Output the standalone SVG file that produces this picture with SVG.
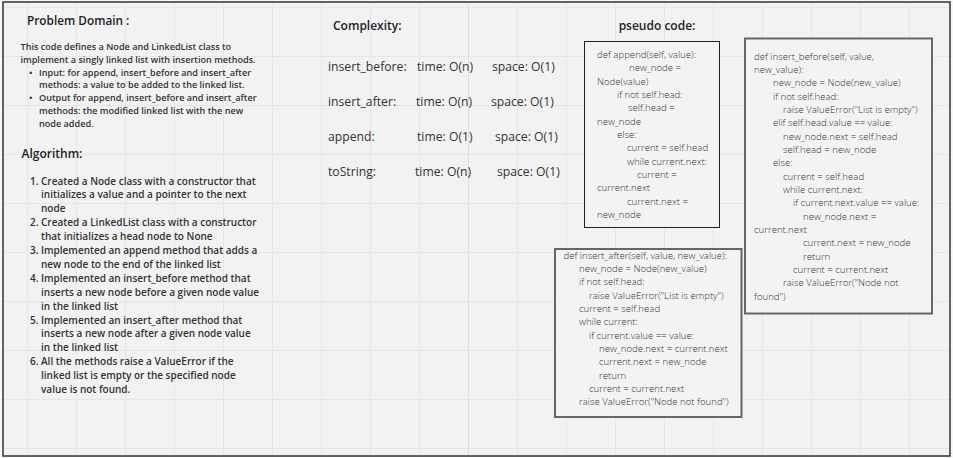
<svg xmlns="http://www.w3.org/2000/svg" width="953" height="458" viewBox="0 0 953 458">
<style>
.pd{font-family:"Open Sans","Liberation Sans",sans-serif;font-size:9.1px;font-weight:600;fill:#333}
.al{font-family:"Open Sans","Liberation Sans",sans-serif;font-size:10px;font-weight:600;fill:#333}
.h{font-family:"Open Sans","Liberation Sans",sans-serif;font-size:12px;font-weight:600;fill:#222}
.cx{font-family:"Open Sans","Liberation Sans",sans-serif;font-size:12.2px;fill:#333}
.code{font-family:"Open Sans","Liberation Sans",sans-serif;font-size:9.6px;font-weight:300;fill:#333}
.box1{fill:#f3f3f3;stroke:#222;stroke-width:1}
.box2{fill:#f3f3f3;stroke:#666;stroke-width:2}
</style>
<defs>
<pattern id="grid" patternUnits="userSpaceOnUse" x="27" y="7" width="49" height="49">
<rect width="49" height="49" fill="#f2f2f2"/>
<path d="M0 0.5H49M0.5 0V49" stroke="#e6e6e6" stroke-width="1" fill="none"/>
</pattern>
</defs>
<rect width="953" height="458" fill="#f6f6f6"/>
<rect id="frame" x="3" y="2" width="947" height="454" fill="url(#grid)" stroke="#333" stroke-width="1.5"/>
<line x1="468.5" y1="3" x2="468.5" y2="455" stroke="#dedede" stroke-width="1"/>

<g id="problem-domain">
<text class="h" x="27" y="24.5" style="font-size:11.8px">Problem Domain :</text>
<text class="pd" x="20.5" y="50">This code defines a Node and LinkedList class to</text>
<text class="pd" x="20.5" y="62.8">implement a singly linked list with insertion methods.</text>
<text class="pd" x="29" y="75.6">•</text>
<text class="pd" x="39" y="75.6">Input: for append, insert_before and insert_after</text>
<text class="pd" x="39" y="88.4">methods: a value to be added to the linked list.</text>
<text class="pd" x="29" y="101.2">•</text>
<text class="pd" x="39" y="101.2">Output for append, insert_before and insert_after</text>
<text class="pd" x="39" y="114">methods: the modified linked list with the new</text>
<text class="pd" x="39" y="126.8">node added.</text>
</g>

<g id="algorithm">
<text class="h" x="21.5" y="157.5">Algorithm:</text>
<text class="al" x="30" y="184.5">1.</text>
<text class="al" x="41" y="184.5">Created a Node class with a constructor that</text>
<text class="al" x="41" y="198.4">initializes a value and a pointer to the next</text>
<text class="al" x="41" y="212.3">node</text>
<text class="al" x="30" y="226.2">2.</text>
<text class="al" x="41" y="226.2">Created a LinkedList class with a constructor</text>
<text class="al" x="41" y="240.1">that initializes a head node to None</text>
<text class="al" x="30" y="254">3.</text>
<text class="al" x="41" y="254">Implemented an append method that adds a</text>
<text class="al" x="41" y="267.9">new node to the end of the linked list</text>
<text class="al" x="30" y="281.8">4.</text>
<text class="al" x="41" y="281.8">Implemented an insert_before method that</text>
<text class="al" x="41" y="295.7">inserts a new node before a given node value</text>
<text class="al" x="41" y="309.6">in the linked list</text>
<text class="al" x="30" y="323.5">5.</text>
<text class="al" x="41" y="323.5">Implemented an insert_after method that</text>
<text class="al" x="41" y="337.4">inserts a new node after a given node value</text>
<text class="al" x="41" y="351.3">in the linked list</text>
<text class="al" x="30" y="365.2">6.</text>
<text class="al" x="41" y="365.2">All the methods raise a ValueError if the</text>
<text class="al" x="41" y="379.1">linked list is empty or the specified node</text>
<text class="al" x="41" y="393">value is not found.</text>
</g>

<g id="complexity">
<text class="h" x="333" y="30">Complexity:</text>
<text class="cx" x="328" y="71">insert_before:</text>
<text class="cx" x="417" y="71">time: O(n)</text>
<text class="cx" x="492" y="71">space: O(1)</text>
<text class="cx" x="328" y="106">insert_after:</text>
<text class="cx" x="416" y="106">time: O(n)</text>
<text class="cx" x="491" y="106">space: O(1)</text>
<text class="cx" x="328" y="141">append:</text>
<text class="cx" x="417" y="141">time: O(1)</text>
<text class="cx" x="495" y="141">space: O(1)</text>
<text class="cx" x="328" y="176">toString:</text>
<text class="cx" x="415" y="176">time: O(n)</text>
<text class="cx" x="497" y="176">space: O(1)</text>
</g>

<g id="pseudo-title">
<text class="h" x="657" y="30" text-anchor="middle">pseudo code:</text>
</g>

<g id="append-box">
<rect class="box1" x="584.5" y="41.5" width="135" height="186"/>
<text class="code" x="597" y="58">def append(self, value):</text>
<text class="code" x="629" y="71.3">new_node =</text>
<text class="code" x="597" y="84.7">Node(value)</text>
<text class="code" x="617" y="98">if not self.head:</text>
<text class="code" x="628" y="111.3">self.head =</text>
<text class="code" x="597" y="124.7">new_node</text>
<text class="code" x="617" y="138">else:</text>
<text class="code" x="627" y="151.3">current = self.head</text>
<text class="code" x="627" y="164.7">while current.next:</text>
<text class="code" x="637" y="178">current =</text>
<text class="code" x="597" y="191.3">current.next</text>
<text class="code" x="627" y="204.7">current.next =</text>
<text class="code" x="597" y="218">new_node</text>
</g>

<g id="insert-before-box">
<rect class="box2" x="745" y="38.5" width="187" height="275"/>
<text class="code" x="754" y="59.7">def insert_before(self, value,</text>
<text class="code" x="754" y="73">new_value):</text>
<text class="code" x="773" y="86.3">new_node = Node(new_value)</text>
<text class="code" x="773" y="99.7">if not self.head:</text>
<text class="code" x="783" y="113">raise ValueError("List is empty")</text>
<text class="code" x="773" y="126.3">elif self.head.value == value:</text>
<text class="code" x="783" y="139.7">new_node.next = self.head</text>
<text class="code" x="783" y="153">self.head = new_node</text>
<text class="code" x="773" y="166.3">else:</text>
<text class="code" x="783" y="179.7">current = self.head</text>
<text class="code" x="783" y="193">while current.next:</text>
<text class="code" x="793" y="206.3">if current.next.value == value:</text>
<text class="code" x="803" y="219.7">new_node.next =</text>
<text class="code" x="754" y="233">current.next</text>
<text class="code" x="803" y="246.3">current.next = new_node</text>
<text class="code" x="803" y="259.7">return</text>
<text class="code" x="793" y="273">current = current.next</text>
<text class="code" x="783" y="286.3">raise ValueError("Node not</text>
<text class="code" x="754" y="299.7">found")</text>
</g>

<g id="insert-after-box">
<rect class="box2" x="555" y="249" width="186.5" height="168"/>
<text class="code" x="563.5" y="258.7">def insert_after(self, value, new_value):</text>
<text class="code" x="579" y="272">new_node = Node(new_value)</text>
<text class="code" x="579" y="285.3">if not self.head:</text>
<text class="code" x="589" y="298.7">raise ValueError("List is empty")</text>
<text class="code" x="579" y="312">current = self.head</text>
<text class="code" x="579" y="325.3">while current:</text>
<text class="code" x="589" y="338.7">if current.value == value:</text>
<text class="code" x="599" y="352">new_node.next = current.next</text>
<text class="code" x="599" y="365.3">current.next = new_node</text>
<text class="code" x="599" y="378.7">return</text>
<text class="code" x="589" y="392">current = current.next</text>
<text class="code" x="579" y="405.3">raise ValueError("Node not found")</text>
</g>

<g id="connectors"/>
</svg>
